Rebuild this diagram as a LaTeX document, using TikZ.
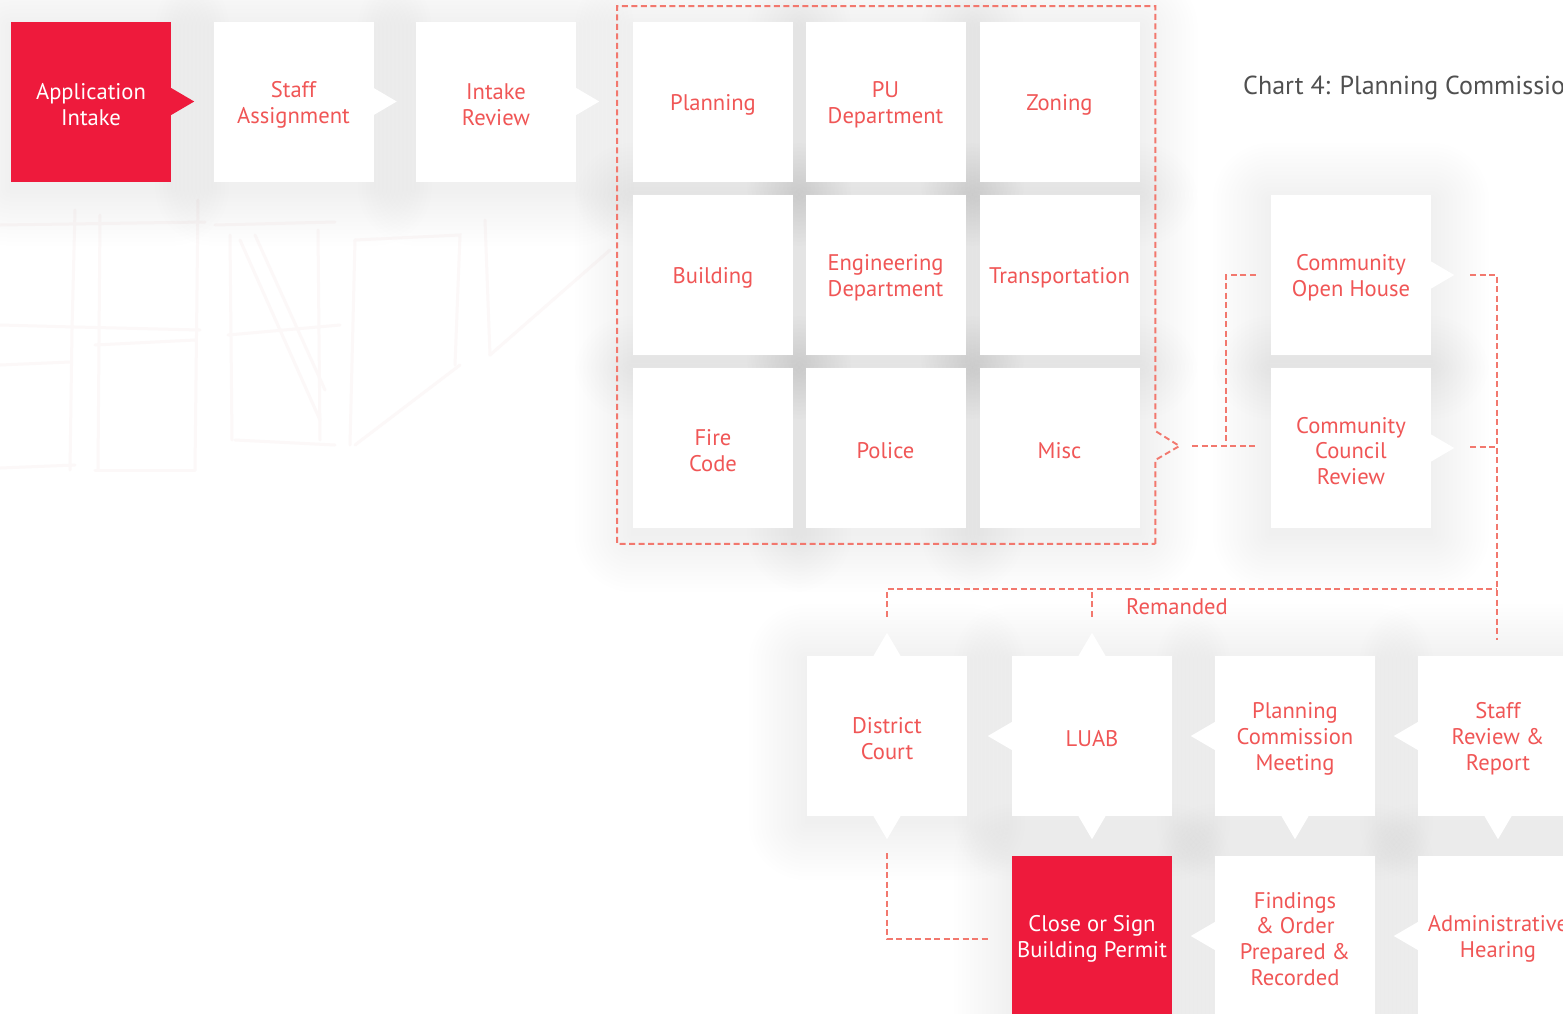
\documentclass[tikz,border=0pt]{standalone}
\usepackage{fontspec}
\setmainfont{PT Sans}
\usetikzlibrary{calc,fit}
\definecolor{txtred}{HTML}{F05656}
\definecolor{dashred}{HTML}{F2786E}
\definecolor{boxred}{HTML}{EE1A3C}
\definecolor{titlegray}{HTML}{505050}
\definecolor{sketch}{HTML}{FCF8F8}
\pgfdeclarelayer{shadowlayer}
\pgfsetlayers{shadowlayer,main}
\newcommand\up{\rule{0pt}{22pt}}
\tikzset{
  box/.style={minimum width=160pt,minimum height=160pt,inner sep=0pt,fill=white,text=txtred,align=center,font=\fontsize{22.6}{25.8}\selectfont},
  redbox/.style={box,fill=boxred,text=white},
  conn/.style={draw=dashred,line width=1.9pt,dash pattern=on 6pt off 3.5pt},
  sk/.style={draw=sketch,line width=3pt,line cap=round},
}
\newcommand\putTri[2]{\fill[#1] #2;}
\newcommand\triR[2][white]{\putTri{#1}{($(#2.east)+(0,-13.5)$) -- ($(#2.east)+(23,0)$) -- ($(#2.east)+(0,13.5)$) -- cycle}}
\newcommand\triL[1]{\putTri{white}{($(#1.west)+(0,-14)$) -- ($(#1.west)+(-24,0)$) -- ($(#1.west)+(0,14)$) -- cycle}}
\newcommand\triU[1]{\putTri{white}{($(#1.north)+(-13.5,0)$) -- ($(#1.north)+(0,-23)$) -- ($(#1.north)+(13.5,0)$) -- cycle}}
\newcommand\triD[1]{\putTri{white}{($(#1.south)+(-13.5,0)$) -- ($(#1.south)+(0,23)$) -- ($(#1.south)+(13.5,0)$) -- cycle}}
\begin{document}
\begin{tikzpicture}[x=1pt,y=-1pt]
\useasboundingbox (0,0) rectangle (1563,1013);
\begin{pgfonlayer}{shadowlayer}
\fill[white] (0,0) rectangle (1563,1013);
% faint background sketch
\draw[sk] (0,225) -- (205,222); \draw[sk] (0,325) -- (75,327) -- (200,330);
\draw[sk] (75,210) -- (72,330) -- (70,470); \draw[sk] (100,215) -- (98,470);
\draw[sk] (95,345) -- (195,340); \draw[sk] (0,365) -- (70,362);
\draw[sk] (0,468) -- (75,465); \draw[sk] (95,470) -- (195,470);
\draw[sk] (198,200) -- (195,470);
\draw[sk] (215,225) -- (335,222); \draw[sk] (230,235) -- (232,440);
\draw[sk] (318,230) -- (320,440); \draw[sk] (228,335) -- (340,325);
\draw[sk] (235,440) -- (335,445); \draw[sk] (240,240) -- (320,420);
\draw[sk] (255,235) -- (325,390); \draw[sk] (355,240) -- (350,445);
\draw[sk] (355,240) -- (460,235) -- (455,365); \draw[sk] (355,445) -- (460,365);
\draw[sk] (485,220) -- (490,355); \draw[sk] (490,355) -- (610,250);
\end{pgfonlayer}
% top row
\node[redbox] (app) at (91,101.5) {\up Application\\Intake};
\node[box] (staff) at (293.5,101.5) {\up Staff\\Assignment};
\node[box] (intake) at (496,101.5) {\up Intake\\Review};
% grid
\node[box] (planning) at (713,102) {\up Planning};
\node[box] (pu) at (885.5,102) {\up PU\\Department};
\node[box] (zoning) at (1059.5,102) {\up Zoning};
\node[box] (building) at (713,275) {\up Building};
\node[box] (eng) at (885.5,275) {\up Engineering\\Department};
\node[box] (transp) at (1059.5,275) {\up Transportation};
\node[box] (fire) at (713,448) {\up Fire\\Code};
\node[box] (police) at (885.5,448) {\up Police};
\node[box] (misc) at (1059.5,448) {\up Misc};
% community
\node[box] (coh) at (1351,275) {\up Community\\Open House};
\node[box] (ccr) at (1351,448) {\up Community\\Council\\Review};
% bottom rows
\node[box] (dc) at (887,736) {\up District\\Court};
\node[box] (luab) at (1092,736) {\up LUAB};
\node[box] (pcm) at (1295,736) {\up Planning\\Commission\\Meeting};
\node[box] (srr) at (1498,736) {\up Staff\\Review \&\\Report};
\node[redbox] (close) at (1092,936) {\up Close or Sign\\Building Permit};
\node[box] (find) at (1295,936) {\up Findings\\\& Order\\Prepared \&\\Recorded};
\node[box] (adm) at (1498,936) {\up Administrative\\Hearing};
% soft shadows of boxes
\begin{pgfonlayer}{shadowlayer}
\foreach \n in {app,staff,intake,planning,pu,zoning,building,eng,transp,fire,police,misc,coh,ccr,dc,luab,pcm,srr,close,find,adm}{
  \foreach \r in {2,6,...,58}
    \fill[black,opacity=0.0042,rounded corners=\r pt] ($(\n.north west)+(-\r,-\r+6)$) rectangle ($(\n.south east)+(\r,\r+6)$);
}
\end{pgfonlayer}
% pointers
\triR[boxred]{app}
\triR{staff}
\triR{intake}
\triR{coh}
\triR{ccr}
\triU{dc}\triD{dc}
\triU{luab}\triD{luab}\triL{luab}
\triL{pcm}\triD{pcm}
\triL{srr}\triD{srr}
\triL{find}
\triL{adm}
% title
\node[anchor=base west,text=titlegray,font=\fontsize{26}{31}\selectfont,inner sep=0pt] (title) at (1243,94) {Chart 4: Planning Commission};
% grid frame
\node[fit=(planning)(misc),inner sep=15.5pt] (grid) {};
\coordinate (gtip) at ($(grid.east |- misc)+(24,-2)$);
\draw[conn] (grid.south east) -- ($(grid.east |- misc)+(0,12)$) -- (gtip) -- ($(grid.east |- misc)+(0,-17)$) -- (grid.north east) -- (grid.north west) -- (grid.south west) -- cycle;
% connectors
\draw[conn] ($(gtip)+(13,0)$) -- (gtip -| {$(ccr.west)+(-15,0)$});
\draw[conn] ($(coh.west)+(-15,0)$) -| ($(ccr.west)+(-45,-2)$);
\draw[conn] ($(coh.east)+(39,0)$) -| ($(srr.north)+(-1,-16)$);
\draw[conn] ($(ccr.east)+(39,-1)$) -- ($(ccr.east -| srr.north)+(-1,-1)$);
\coordinate (rem) at ($(srr.north)+(-1,-67)$);
\draw[conn] ($(dc.north)+(0,-39)$) |- (rem);
\draw[conn] ($(luab.north)+(0,-39)$) -- (luab.north |- rem);
\node[anchor=west,text=txtred,font=\fontsize{22.6}{25.8}\selectfont,inner sep=0pt] (remlabel) at ($(luab.north |- rem)+(34,18)$) {Remanded};
\draw[conn] ($(dc.south)+(0,37)$) |- ($(close.west)+(-23,3)$);
\end{tikzpicture}
\end{document}
